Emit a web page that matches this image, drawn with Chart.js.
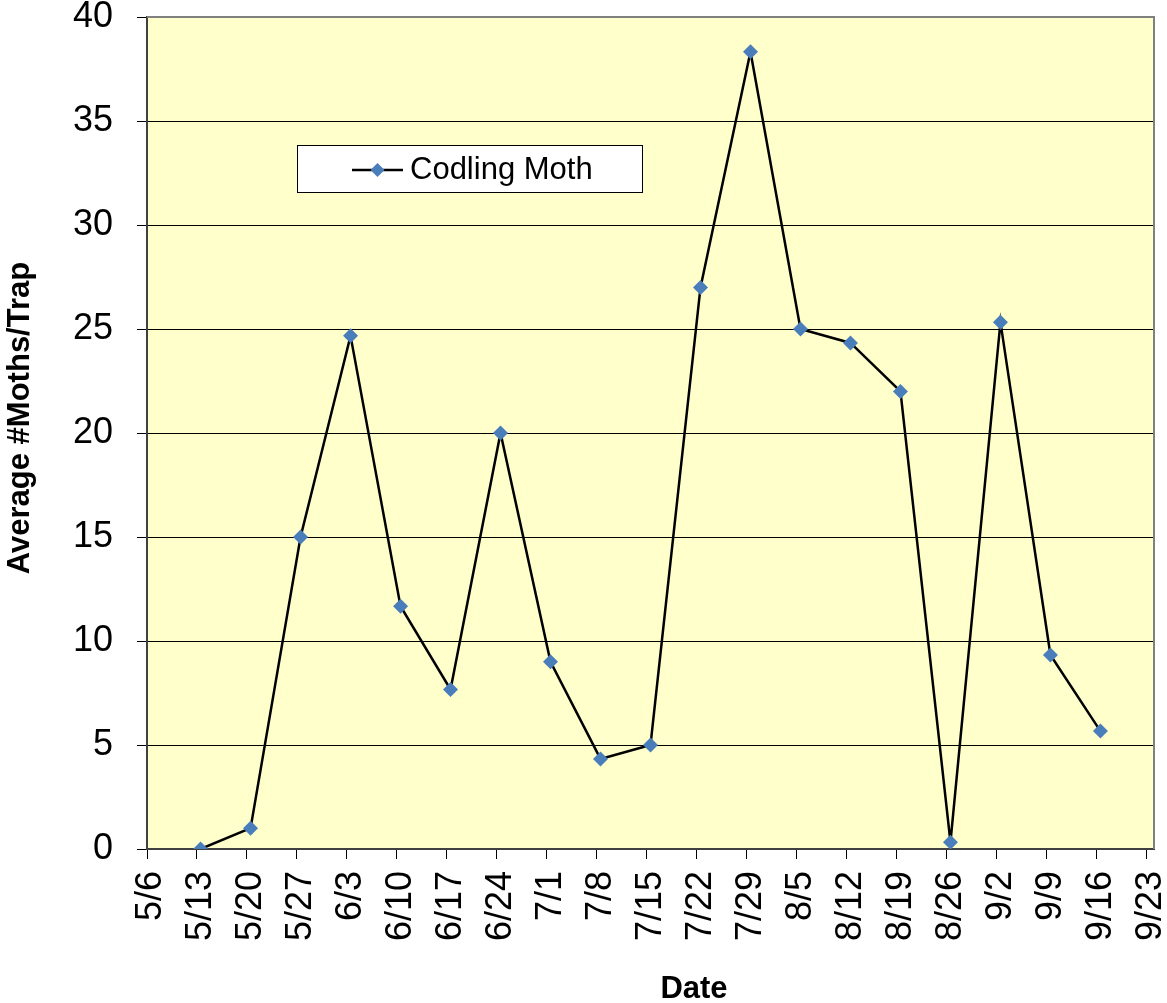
<!DOCTYPE html>
<html>
<head>
<meta charset="utf-8">
<script src="https://cdn.jsdelivr.net/npm/chart.js@4"></script>
<style>
  body { margin: 0; background: #fff; }
  #wrap { width: 1167px; height: 1003px; position: relative; }
</style>
</head>
<body>
<div id="wrap"><canvas id="chart"></canvas></div>
<script>
(function(){
const FONT = '"Liberation Sans", Arial, sans-serif';

// axis labels (weekly ticks)
const tickDates = ['5/6','5/13','5/20','5/27','6/3','6/10','6/17','6/24','7/1','7/8','7/15',
                   '7/22','7/29','8/5','8/12','8/19','8/26','9/2','9/9','9/16','9/23'];
// trap check dates and counts
const sampleDates = ['5/13','5/20','5/27','6/3','6/10','6/17','6/24','7/1','7/8','7/15',
                     '7/22','7/29','8/5','8/12','8/19','8/26','9/2','9/9','9/16'];
const codlingMoth = [0, 1, 15, 24.67, 11.67, 7.67, 20, 9, 4.33, 5,
                     27, 38.33, 25, 24.33, 22, 0.33, 25.33, 9.33, 5.67];
const seriesName = 'Codling Moth';
const xTitle = 'Date';
const yTitle = 'Average #Moths/Trap';
const yTicks = [0, 5, 10, 15, 20, 25, 30, 35, 40];

function dayOf(s) {
    const p = s.split('/').map(Number);
    return (Date.UTC(2000, p[0] - 1, p[1]) - Date.UTC(2000, 4, 6)) / 86400000;
}
const tickValues = tickDates.map(dayOf);
// Excel date axis centres each point in its day slot
const points = sampleDates.map((d, i) => ({ x: dayOf(d) + 0.5, y: codlingMoth[i] }));

const plotBg = {
    id: 'plotBg',
    beforeDraw(chart) {
        const a = chart.chartArea, ctx = chart.ctx;
        ctx.save();
        ctx.fillStyle = '#FFFFCC';
        ctx.fillRect(a.left, a.top, a.right - a.left, a.bottom - a.top);
        ctx.restore();
    },
    beforeDatasetsDraw(chart) {
        const a = chart.chartArea, ctx = chart.ctx;
        ctx.save();
        ctx.strokeStyle = '#808080';
        ctx.lineWidth = 2;
        ctx.beginPath();
        ctx.moveTo(a.left, a.top);
        ctx.lineTo(a.right, a.top);
        ctx.lineTo(a.right, a.bottom);
        ctx.stroke();
        ctx.restore();
    }
};

const extras = {
    id: 'extras',
    afterDraw(chart) {
        const ctx = chart.ctx;
        const ds = chart.data.datasets[0];
        ctx.save();
        // legend box
        ctx.fillStyle = '#fff';
        ctx.fillRect(297, 145, 345, 48);
        ctx.strokeStyle = '#000';
        ctx.lineWidth = 1;
        ctx.strokeRect(297.5, 145.5, 345, 47);
        ctx.strokeStyle = ds.borderColor;
        ctx.lineWidth = ds.borderWidth;
        ctx.beginPath();
        ctx.moveTo(352, 170);
        ctx.lineTo(403, 170);
        ctx.stroke();
        ctx.fillStyle = ds.pointBackgroundColor;
        ctx.beginPath();
        ctx.moveTo(377.5, 163);
        ctx.lineTo(384.5, 170);
        ctx.lineTo(377.5, 177);
        ctx.lineTo(370.5, 170);
        ctx.closePath();
        ctx.fill();
        ctx.fillStyle = '#000';
        ctx.font = '31px ' + FONT;
        ctx.textBaseline = 'middle';
        ctx.textAlign = 'left';
        ctx.fillText(ds.label, 410, 170);
        // axis titles
        ctx.font = 'bold 31px ' + FONT;
        ctx.textAlign = 'center';
        ctx.fillText(xTitle, 694, 989);
        ctx.translate(20, 418);
        ctx.rotate(-Math.PI / 2);
        ctx.fillText(yTitle, 0, 0);
        ctx.restore();
    }
};

new Chart(document.getElementById('chart'), {
    type: 'line',
    data: {
        datasets: [{
            label: seriesName,
            data: points,
            borderColor: '#000',
            borderWidth: 2.5,
            pointStyle: 'rectRot',
            pointRadius: 7.5,
            pointBackgroundColor: '#4A7EBB',
            pointBorderColor: '#4A7EBB',
            pointBorderWidth: 0,
            tension: 0
        }]
    },
    options: {
        responsive: true,
        maintainAspectRatio: false,
        animation: false,
        events: [],
        layout: { padding: { top: 17, right: 13, left: 0, bottom: 0 } },
        plugins: { legend: { display: false }, tooltip: { enabled: false } },
        scales: {
            x: {
                type: 'linear',
                min: 0,
                max: 141,
                afterBuildTicks: (scale) => { scale.ticks = tickValues.map(v => ({ value: v })); },
                afterFit: (scale) => {
                    scale.height = 154;
                    scale.paddingLeft = 0; scale.paddingRight = 0;
                },
                ticks: {
                    autoSkip: false,
                    minRotation: 90,
                    maxRotation: 90,
                    padding: 12,
                    labelOffset: 4,
                    color: '#000',
                    font: { family: FONT, size: 36 },
                    callback: (v) => tickDates[tickValues.indexOf(v)]
                },
                grid: { drawOnChartArea: false, drawTicks: true, tickLength: 10, color: '#000', lineWidth: 1 },
                border: { color: '#404040', width: 2 }
            },
            y: {
                min: 0,
                max: 40,
                afterBuildTicks: (scale) => { scale.ticks = yTicks.map(v => ({ value: v })); },
                afterFit: (scale) => {
                    scale.width = 147;
                    scale.paddingTop = 0; scale.paddingBottom = 0;
                },
                ticks: {
                    padding: 24,
                    color: '#000',
                    font: { family: FONT, size: 36 }
                },
                grid: { color: '#000', lineWidth: 1, tickLength: 10 },
                border: { color: '#404040', width: 2 }
            }
        }
    },
    plugins: [plotBg, extras]
});
}());
</script>
</body>
</html>
